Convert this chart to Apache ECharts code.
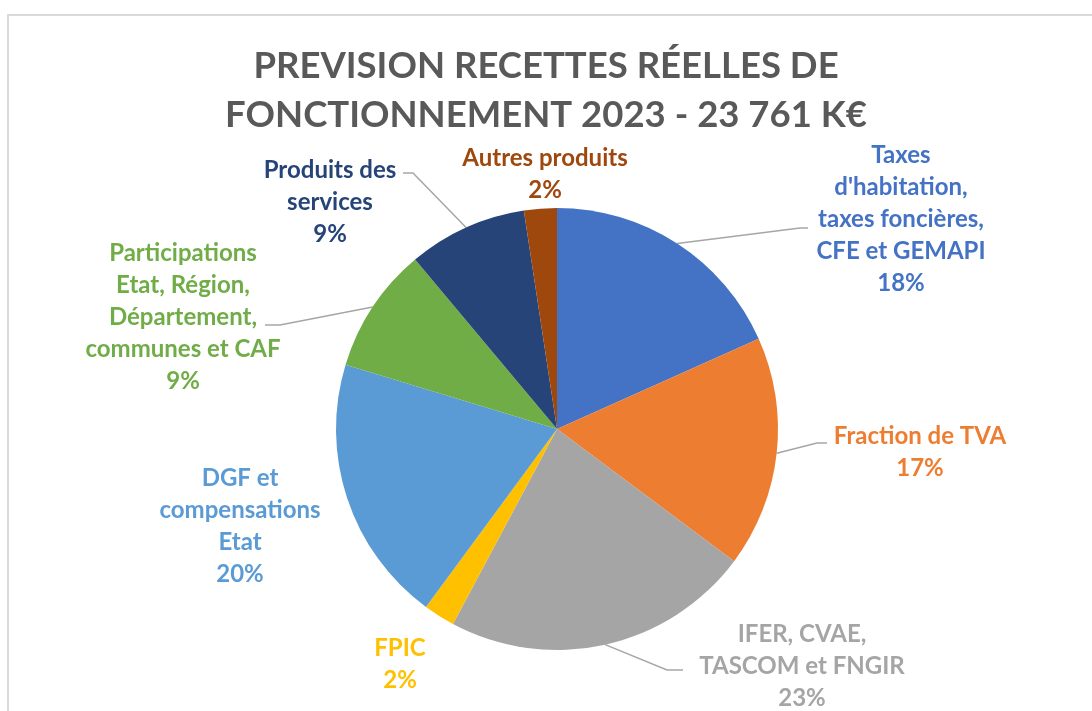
<!DOCTYPE html>
<html>
<head>
<meta charset="utf-8">
<title>Prévision recettes</title>
<script src="https://cdn.jsdelivr.net/npm/echarts@6/dist/echarts.min.js"></script>
<style>
  html, body { margin: 0; padding: 0; background: #fff; }
  #main { width: 1092px; height: 711px; }
</style>
</head>
<body>
<div id="main"></div>
<script>
// categories (line breaks as in the chart)
var categories = [
  "Taxes\nd'habitation,\ntaxes foncières,\nCFE et GEMAPI",
  "Fraction de TVA",
  "IFER, CVAE,\nTASCOM et FNGIR",
  "FPIC",
  "DGF et\ncompensations\nEtat",
  "Participations\nEtat, Région,\nDépartement,\ncommunes et CAF",
  "Produits des\nservices",
  "Autres produits"
];
// montants en K€ (total 23 761)
var values = [4348, 4016, 5370, 547, 4657, 2186, 2067, 570];
var colors = ['#4472c4', '#ed7d31', '#a5a5a5', '#ffc000', '#5b9bd5', '#70ad47', '#264478', '#9e480e'];

// label placement (center of text block) and leader line (bend, end)
var labelPos = [[901, 219], [920, 452], [802, 666], [400, 664], [240, 526], [183, 317], [330, 202], [545, 174]];
var lineBend = [[800, 228], [817, 443], [667, 670], null, null, [280, 325], [413, 173], null];
var lineEnd  = [[808, 228], [827, 443], [683, 670], null, null, [265, 325], [403, 173], null];

var font = 'Lato, "Open Sans", sans-serif';

var myChart = echarts.init(document.getElementById('main'));

var pieData = values.map(function (v, i) {
  return {
    name: categories[i],
    value: v,
    itemStyle: { color: colors[i] },
    label: { color: colors[i] },
    labelLine: { show: lineEnd[i] !== null }
  };
});

var option = {
  animation: false,
  title: {
    text: 'PREVISION RECETTES RÉELLES DE\nFONCTIONNEMENT 2023 - 23 761 K€',
    left: 'center',
    top: 37,
    textStyle: {
      fontFamily: font,
      fontSize: 36.5,
      fontWeight: 'bold',
      lineHeight: 49,
      color: '#595959'
    }
  },
  graphic: [{
    type: 'rect',
    shape: { x: 8, y: 15, width: 1200, height: 800 },
    style: { fill: 'none', stroke: '#d9d9d9', lineWidth: 2 },
    z: -1
  }],
  series: [{
    type: 'pie',
    center: [557, 429],
    radius: 221,
    startAngle: 90,
    clockwise: true,
    avoidLabelOverlap: false,
    data: pieData,
    itemStyle: { borderWidth: 0 },
    label: {
      show: true,
      position: 'outside',
      fontFamily: font,
      fontSize: 24,
      fontWeight: 'bold',
      lineHeight: 32,
      align: 'center',
      formatter: function (p) {
        return p.name + '\n' + Math.round(p.percent) + '%';
      }
    },
    labelLine: {
      lineStyle: { color: '#a6a6a6', width: 1.5 }
    },
    labelLayout: function (params) {
      var i = params.dataIndex;
      var res = {
        x: labelPos[i][0],
        y: labelPos[i][1],
        align: 'center',
        verticalAlign: 'middle'
      };
      if (lineEnd[i] && params.labelLinePoints) {
        res.labelLinePoints = [params.labelLinePoints[0], lineBend[i], lineEnd[i]];
      }
      return res;
    }
  }]
};

myChart.setOption(option);
</script>
</body>
</html>
